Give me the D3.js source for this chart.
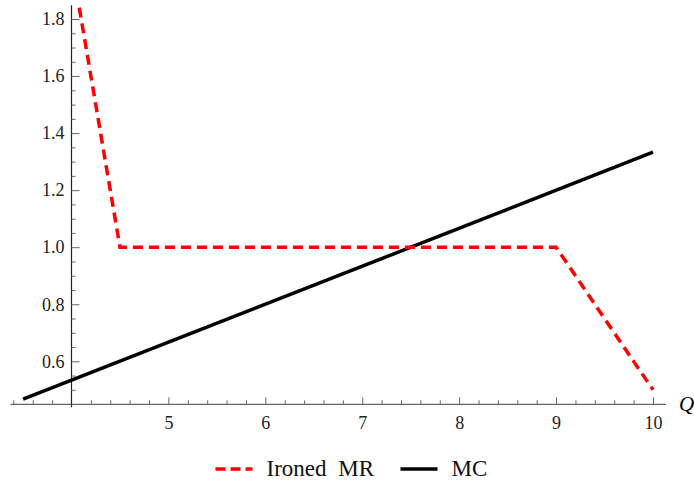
<!DOCTYPE html>
<html>
<head>
  <meta charset="utf-8">
  <title>Ironed MR and MC</title>
  <script src="https://d3js.org/d3.v7.min.js"></script>
  <style>
    body { margin: 0; background: #fff; }
    .axis path { display: none; }
    .axis line { stroke: #666; }
  </style>
</head>
<body>
<svg width="694" height="485"></svg>
<script>
  // ironed marginal revenue (clipped at the top of the plot)
  const mrQ = [4.08, 4.5, 9, 10];
  const mrV = [1.84, 1.0, 1.0, 0.5];
  // marginal cost
  const mcQ = [3.5, 10];
  const mcV = [0.467, 1.333];

  const xTicks = [5, 6, 7, 8, 9, 10];
  const yTicks = [0.6, 0.8, 1.0, 1.2, 1.4, 1.6, 1.8];
  const legendNames = ['Ironed MR', 'MC'];

  const serif = 'Liberation Serif';
  const svg = d3.select('svg');

  const x = d3.scaleLinear().domain([4, 10]).range([71.5, 653]);
  const y = d3.scaleLinear().domain([0.6, 1.8]).range([361.3, 19]);

  const xMin = 3.37, xMax = 10.134;
  const yMin = 0.449, yMax = 1.848;

  // axis lines
  svg.append('line')
    .attr('x1', x(xMin)).attr('x2', x(xMax))
    .attr('y1', y(yMin)).attr('y2', y(yMin))
    .attr('stroke', '#666').attr('stroke-width', 1.2);
  svg.append('line')
    .attr('x1', x(4)).attr('x2', x(4))
    .attr('y1', y(yMax)).attr('y2', y(yMin) + 3)
    .attr('stroke', '#222').attr('stroke-width', 1.2);

  // x ticks
  const xMinor = d3.range(3.4, 10.1, 0.2).filter(v => Math.abs(v - 4) > 0.01 && Math.abs(v - Math.round(v)) > 0.01);
  svg.append('g').attr('class', 'axis')
    .attr('transform', `translate(0,${y(yMin)})`)
    .call(d3.axisBottom(x).tickValues(xMinor).tickSizeInner(-4).tickSizeOuter(0).tickFormat(''));
  const gx = svg.append('g').attr('class', 'axis')
    .attr('transform', `translate(0,${y(yMin)})`)
    .call(d3.axisBottom(x).tickValues(xTicks).tickSizeInner(-7).tickSizeOuter(0).tickPadding(12).tickFormat(d3.format('d')));

  // y ticks
  const yMinor = d3.range(0.45, 1.85, 0.05).filter(v => Math.abs(v * 5 - Math.round(v * 5)) > 0.01);
  svg.append('g').attr('class', 'axis')
    .attr('transform', `translate(${x(4)},0)`)
    .call(d3.axisLeft(y).tickValues(yMinor).tickSizeInner(-4).tickSizeOuter(0).tickFormat(''));
  const gy = svg.append('g').attr('class', 'axis')
    .attr('transform', `translate(${x(4)},0)`)
    .call(d3.axisLeft(y).tickValues(yTicks).tickSizeInner(-8).tickSizeOuter(0).tickPadding(7).tickFormat(d3.format('.1f')));

  [gx, gy].forEach(g => g.attr('font-family', null).attr('font-size', null)
    .selectAll('text')
    .attr('font-family', serif).attr('font-size', 18).attr('fill', '#222'));

  svg.append('text')
    .attr('x', x(xMax) + 13).attr('y', y(yMin) + 7)
    .attr('font-family', serif)
    .attr('font-size', 21).attr('font-style', 'italic')
    .text('Q');

  const line = d3.line().x(d => x(d[0])).y(d => y(d[1]));

  svg.append('path')
    .datum(mcQ.map((q, i) => [q, mcV[i]]))
    .attr('d', line)
    .attr('fill', 'none').attr('stroke', '#000').attr('stroke-width', 3.5);

  svg.append('path')
    .datum(mrQ.map((q, i) => [q, mrV[i]]))
    .attr('d', line)
    .attr('fill', 'none').attr('stroke', '#ff0000').attr('stroke-width', 3.5)
    .attr('stroke-dasharray', '10,6');

  // legend
  const legend = svg.append('g').attr('transform', 'translate(0,469)');
  const lx = [215.5, 400.5];
  const styles = [{ c: '#ff0000', dash: '10,5' }, { c: '#000', dash: null }];
  legendNames.forEach((name, i) => {
    legend.append('line')
      .attr('x1', lx[i]).attr('x2', lx[i] + 37)
      .attr('y1', 0).attr('y2', 0)
      .attr('stroke', styles[i].c).attr('stroke-width', 3.5)
      .attr('stroke-dasharray', styles[i].dash);
    legend.append('text')
      .attr('x', lx[i] + 51).attr('y', 7)
      .attr('font-family', serif)
      .attr('font-size', 23).attr('fill', '#111')
      .attr('word-spacing', 6)
      .text(name);
  });
</script>
</body>
</html>
